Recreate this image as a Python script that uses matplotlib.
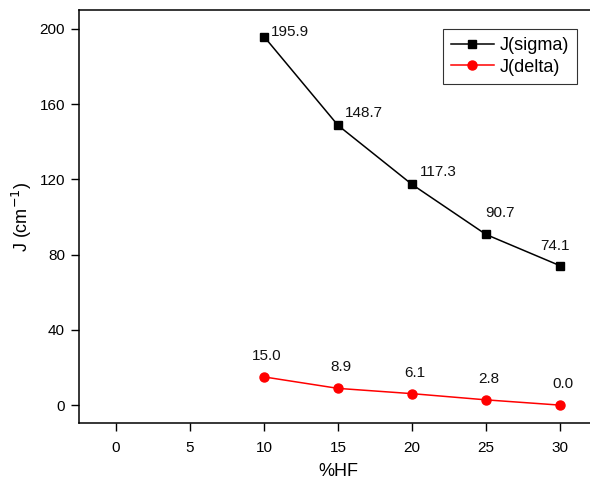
import numpy as np
import matplotlib
matplotlib.use("Agg")
import matplotlib.pyplot as plt

plt.rcParams['font.family'] = ['Liberation Sans', 'DejaVu Sans']

hf = [10, 15, 20, 25, 30]
j_sigma = [195.9, 148.7, 117.3, 90.7, 74.1]
j_delta = [15.0, 8.9, 6.1, 2.8, 0.0]

# label offsets in pixels (dx, dy up)
sigma_off = [(7, 5), (7, 12), (8, 12), (-1, 21), (-20, 20)]
delta_off = (3, 21)

fig = plt.figure(figsize=(5.9, 4.84), dpi=100)
ax = fig.add_axes([79/590, 61/484, 518/590, 413/484])

ax.plot(hf, j_sigma, '-s', color='black', lw=1.1, ms=5.5, label='J(sigma)')
ax.plot(hf, j_delta, '-o', color='red', lw=1.1, ms=6.5, label='J(delta)')

for x, y, (dx, dy) in zip(hf, j_sigma, sigma_off):
  ax.annotate("%.1f" % y, (x, y), xytext=(dx, dy), textcoords='offset pixels',
              ha='left', va='center', fontsize=11, color='#111111')
for x, y in zip(hf, j_delta):
  ax.annotate("%.1f" % y, (x, y), xytext=delta_off, textcoords='offset pixels',
              ha='center', va='center', fontsize=11, color='#111111')

ax.set_xlim(-2.5, 32.5)
ax.set_ylim(-9.5, 210)
ax.set_xticks([0, 5, 10, 15, 20, 25, 30])
ax.set_yticks([0, 40, 80, 120, 160, 200])
ax.tick_params(direction='out', length=6, width=1.0, labelsize=11, colors='black', pad=4)
ax.tick_params(axis='x', pad=7)
ax.spines['right'].set_visible(False)
for s in ['left', 'bottom', 'top']:
  ax.spines[s].set_linewidth(1.1)

ax.set_xlabel('%HF', fontsize=13, labelpad=6)
ax.set_ylabel('J (cm$^{-1}$)', fontsize=13, labelpad=4)

leg = ax.legend(loc='upper right', bbox_to_anchor=(577/518 - 79/518, 1 - 19/413),
                fontsize=13, frameon=True, fancybox=False, handlelength=2.4,
                borderpad=0.45, labelspacing=0.25, handletextpad=0.3, borderaxespad=0)
leg.get_frame().set_edgecolor('black')
leg.get_frame().set_linewidth(0.8)

fig.savefig('out.png', dpi=100)
